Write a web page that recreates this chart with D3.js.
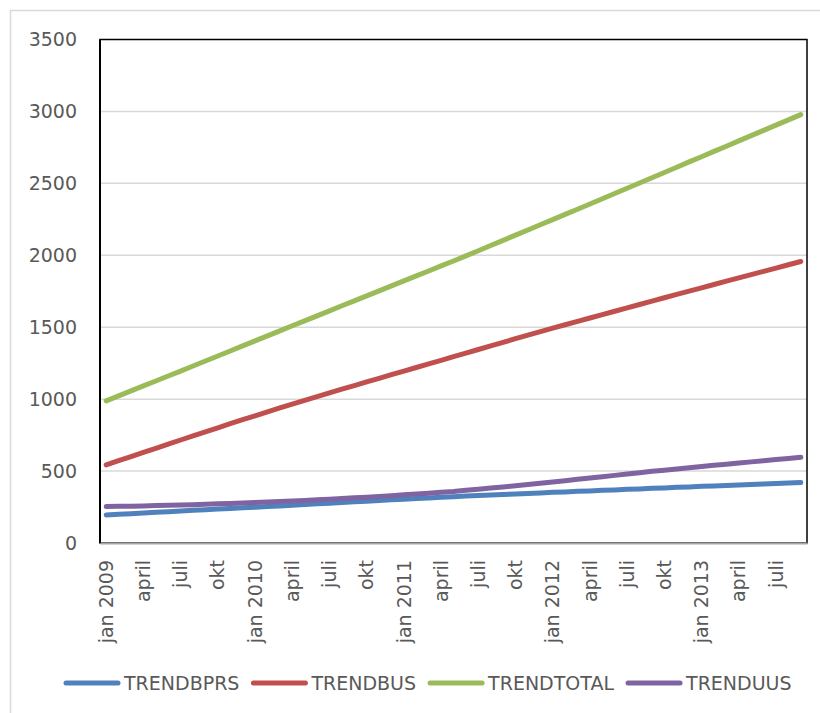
<!DOCTYPE html>
<html>
<head>
<meta charset="utf-8">
<script src="https://cdn.jsdelivr.net/npm/d3@7"></script>
<style>
  html, body { margin: 0; padding: 0; background: #fff; }
  svg { display: block; }
  text { font-family: "DejaVu Sans", sans-serif; fill: #595959; }
</style>
</head>
<body>
<svg id="chart" width="820" height="713"></svg>
<script>
// ---- data ----
const monthNames = ["jan","feb","mrt","april","mei","juni","juli","aug","sep","okt","nov","dec"];
const years = [2009, 2010, 2011, 2012, 2013];
const nMonths = 57; // jan 2009 .. sep 2013
const yTicks = [0, 500, 1000, 1500, 2000, 2500, 3000, 3500];

const trendBPRS = [195,200,204,209,213,218,222,227,231,236,240,245,249,254,258,263,268,272,277,282,286,291,295,300,304,309,313,318,322,326,330,333,337,341,344,348,352,355,359,362,366,369,373,376,380,383,387,390,394,397,400,404,407,410,413,417,420];
const trendBUS = [543,572,601,630,658,687,716,745,773,801,829,857,884,912,940,966,992,1017,1043,1069,1094,1120,1145,1170,1195,1220,1245,1270,1295,1320,1345,1370,1395,1420,1445,1470,1494,1517,1541,1564,1588,1611,1635,1658,1681,1705,1728,1751,1774,1797,1820,1843,1866,1888,1911,1934,1957];
const trendTOTAL = [988,1023,1057,1092,1126,1161,1195,1230,1265,1300,1335,1370,1405,1440,1475,1510,1544,1579,1614,1649,1683,1718,1753,1787,1822,1857,1891,1926,1960,1996,2032,2068,2104,2140,2176,2212,2248,2284,2320,2357,2393,2430,2466,2503,2539,2576,2612,2649,2685,2722,2758,2795,2832,2868,2905,2941,2978];
const trendUUS = [253,255,256,258,260,262,264,266,269,272,275,278,282,285,288,292,296,300,305,309,314,318,323,329,335,340,346,352,358,366,374,382,390,398,406,415,424,433,443,452,461,470,480,489,498,506,515,523,531,540,548,556,564,572,580,588,596];

const seriesNames = ["TRENDBPRS", "TRENDBUS", "TRENDTOTAL", "TRENDUUS"];
const seriesColors = ["#4F81BD", "#C0504D", "#9BBB59", "#8064A2"];
const seriesValues = [trendBPRS, trendBUS, trendTOTAL, trendUUS];

// categories
const categories = [];
years.forEach(y => monthNames.forEach((m, i) => {
  if (categories.length < nMonths) categories.push(i === 0 ? m + " " + y : m + "|" + y);
}));
const labelOf = c => c.includes("|") ? c.split("|")[0] : c;
const tickCats = categories.filter((c, i) => i % 3 === 0);

// ---- layout ----
const svg = d3.select("#chart");
const L = 100, T = 39.5, R = 807, B = 543;

// outer chart border
svg.append("rect").attr("x", 10.5).attr("y", 10.5).attr("width", 840).attr("height", 740)
  .attr("fill", "#fff").attr("stroke", "#d9d9d9").attr("stroke-width", 1.5);

const x = d3.scaleBand().domain(categories).range([L, R]).padding(0);
const y = d3.scaleLinear().domain([0, 3500]).range([B, T]);
const cx = c => x(c) + x.bandwidth() / 2;

// gridlines
svg.append("g").selectAll("line").data(yTicks.filter(t => t > 0 && t < 3500)).join("line")
  .attr("x1", L).attr("x2", R).attr("y1", d => y(d)).attr("y2", d => y(d))
  .attr("stroke", "#d9d9d9").attr("stroke-width", 1.5);

// plot border
svg.append("rect").attr("x", L).attr("y", T).attr("width", R - L).attr("height", B - T)
  .attr("fill", "none").attr("stroke", "#000").attr("stroke-width", 1.5);
svg.append("line").attr("x1", L).attr("x2", L).attr("y1", T).attr("y2", B)
  .attr("stroke", "#000").attr("stroke-width", 2);

// y axis labels
const yAxis = d3.axisLeft(y).tickValues(yTicks).tickSize(0).tickPadding(23).tickFormat(d3.format("d"));
const gy = svg.append("g").attr("transform", `translate(${L},0)`).call(yAxis);
gy.select(".domain").remove();
gy.selectAll("text").style("font-size", "19px").attr("fill", "#595959");

// x axis
const xAxis = d3.axisBottom(x).tickValues(tickCats).tickSize(0).tickFormat(labelOf);
const gx = svg.append("g").attr("transform", `translate(0,${B})`).call(xAxis);
gx.select(".domain").attr("stroke", "#a6a6a6").attr("stroke-width", 2);
gx.selectAll("text")
  .style("font-size", "19px").attr("fill", "#595959")
  .attr("transform", "rotate(-90)")
  .attr("text-anchor", "end")
  .attr("x", -17).attr("y", 0).attr("dy", "0.35em");

// lines
const line = d3.line().x((d, i) => cx(categories[i])).y(d => y(d));
seriesValues.forEach((vals, k) => {
  svg.append("path").datum(vals).attr("d", line)
    .attr("fill", "none").attr("stroke", seriesColors[k]).attr("stroke-width", 5)
    .attr("stroke-linecap", "round").attr("stroke-linejoin", "round");
});

// legend
const legY = 683;
let lx = 66;
const leg = svg.append("g");
seriesNames.forEach((name, k) => {
  leg.append("line").attr("x1", lx).attr("x2", lx + 52).attr("y1", legY).attr("y2", legY)
    .attr("stroke", seriesColors[k]).attr("stroke-width", 5).attr("stroke-linecap", "round");
  const t = leg.append("text").attr("x", lx + 58).attr("y", legY).attr("dy", "0.35em")
    .style("font-size", "19px").text(name);
  const w = t.node().getComputedTextLength();
  lx = lx + 58 + w + 14;
});
</script>
</body>
</html>
